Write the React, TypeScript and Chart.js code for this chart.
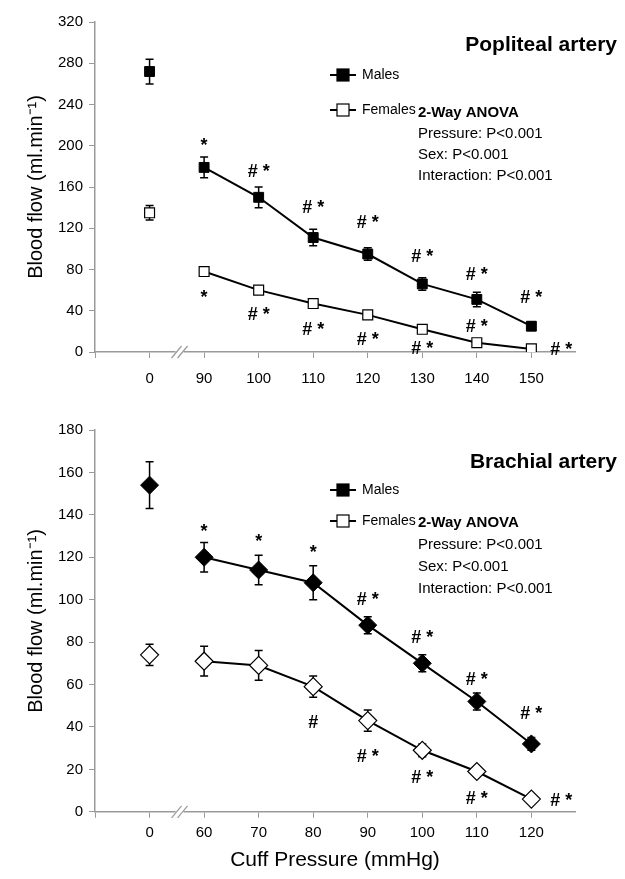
import { useEffect, useRef } from 'react';
import Chart from 'chart.js/auto';

// Top panel: popliteal artery
const popLabels = ['0', '90', '100', '110', '120', '130', '140', '150'];
const popMales = [272, 179, 150, 111, 95, 66, 51, 25];
const popMalesErr = [12, 10, 10, 8, 6, 6, 7, 4];
const popFemales = [135, 78, 60, 47, 36, 22, 9, 3];
const popFemalesErr = [7, 3, 3, 3, 3, 3, 2, 1];
const popMaleMarks = ['', '*', '#*', '#*', '#*', '#*', '#*', '#*'];
const popMaleMarkY = [0, 200, 175, 140, 125, 92, 75, 52];
const popFemaleMarks = ['', '*', '#*', '#*', '#*', '#*', '#*', '#*'];
const popFemaleMarkY = [0, 52, 36, 21, 12, 3, 24, 2];

// Bottom panel: brachial artery
const brLabels = ['0', '60', '70', '80', '90', '100', '110', '120'];
const brMales = [154, 120, 114, 108, 88, 70, 52, 32];
const brMalesErr = [11, 7, 7, 8, 4, 4, 4, 3];
const brFemales = [74, 71, 69, 59, 43, 29, 19, 6];
const brFemalesErr = [5, 7, 7, 5, 5, 3, 2, 1];
const brMaleMarks = ['', '*', '*', '*', '#*', '#*', '#*', '#*'];
const brMaleMarkY = [0, 132, 127, 122, 100, 82, 62, 46];
const brFemaleMarks = ['', '', '', '#', '#*', '#*', '#*', '#*'];
const brFemaleMarkY = [0, 0, 0, 42, 26, 16, 6, 5];

const anovaLines = ['Pressure: P<0.001', 'Sex: P<0.001', 'Interaction: P<0.001'];
const FONT = '"Liberation Sans", Arial, sans-serif';
const AXIS = '#9a9a9a';

interface PanelProps {
  height: number;
  title: string;
  labels: string[];
  males: number[];
  malesErr: number[];
  females: number[];
  femalesErr: number[];
  maleMarks: string[];
  maleMarkY: number[];
  femaleMarks: string[];
  femaleMarkY: number[];
  yMax: number;
  yStep: number;
  marker: 'rect' | 'rectRot';
  radius: number;
  showXTitle: boolean;
  top: number;
  bottom: number;
  tickPad: number;
  titleY: number;
  legendY: number[];
  anovaY: number;
  anovaGap: number;
}

function Panel(p: PanelProps) {
  const ref = useRef<HTMLCanvasElement>(null);

  useEffect(() => {
    if (!ref.current) return;
    const pts = (vals: number[]) => vals.map((v, i) => ({ x: i, y: v }));
    const seg = { borderColor: (ctx: any) => (ctx.p0DataIndex === 0 ? 'transparent' : '#000') };

    const extras = {
      id: 'extras',
      beforeDatasetsDraw(chart: any) {
        const c = chart.ctx;
        const xs = chart.scales.x;
        const ys = chart.scales.y;
        c.save();
        c.strokeStyle = '#000';
        c.lineWidth = 1.5;
        const bars = (vals: number[], errs: number[]) => {
          vals.forEach((v, i) => {
            const x = xs.getPixelForValue(i);
            const y1 = ys.getPixelForValue(v + errs[i]);
            const y2 = ys.getPixelForValue(v - errs[i]);
            c.beginPath();
            c.moveTo(x, y1); c.lineTo(x, y2);
            c.moveTo(x - 4, y1); c.lineTo(x + 4, y1);
            c.moveTo(x - 4, y2); c.lineTo(x + 4, y2);
            c.stroke();
          });
        };
        bars(p.males, p.malesErr);
        bars(p.females, p.femalesErr);
        c.restore();
      },
      afterDraw(chart: any) {
        const c = chart.ctx;
        const xs = chart.scales.x;
        const ys = chart.scales.y;
        const area = chart.chartArea;
        c.save();
        // axis break
        const bx = xs.getPixelForValue(0.55);
        const by = area.bottom;
        c.fillStyle = '#fff';
        c.fillRect(bx - 4, by - 3, 8, 6);
        c.strokeStyle = AXIS;
        c.lineWidth = 1.2;
        for (const d of [-3, 3]) {
          c.beginPath();
          c.moveTo(bx + d - 5, by + 6);
          c.lineTo(bx + d + 5, by - 6);
          c.stroke();
        }
        // significance marks
        c.fillStyle = '#000';
        c.font = `bold 18px ${FONT}`;
        c.textAlign = 'center';
        c.textBaseline = 'middle';
        const marks = (texts: string[], ys2: number[], female: boolean) => {
          texts.forEach((t, i) => {
            if (!t) return;
            const off = female && i === texts.length - 1 ? 30 : 0;
            const lbl = t === '#*' ? '# *' : t;
            c.fillText(lbl, xs.getPixelForValue(i) + off, ys.getPixelForValue(ys2[i]));
          });
        };
        marks(p.maleMarks, p.maleMarkY, false);
        marks(p.femaleMarks, p.femaleMarkY, true);
        // title
        c.textAlign = 'right';
        c.font = `bold 21px ${FONT}`;
        c.fillText(p.title, 617, p.titleY);
        // legend
        const lx = 330;
        const legend = (y: number, fill: string, name: string) => {
          c.strokeStyle = '#000';
          c.lineWidth = 2;
          c.beginPath(); c.moveTo(lx, y); c.lineTo(lx + 26, y); c.stroke();
          c.fillStyle = fill;
          c.lineWidth = 1.2;
          c.fillRect(lx + 7, y - 6, 12, 12);
          c.strokeRect(lx + 7, y - 6, 12, 12);
          c.fillStyle = '#000';
          c.textAlign = 'left';
          c.font = `14px ${FONT}`;
          c.fillText(name, lx + 32, y);
        };
        legend(p.legendY[0], '#000', 'Males');
        legend(p.legendY[1], '#fff', 'Females');
        // ANOVA
        c.textAlign = 'left';
        c.font = `bold 15px ${FONT}`;
        c.fillText('2-Way ANOVA', 418, p.anovaY);
        c.font = `15px ${FONT}`;
        anovaLines.forEach((t, i) => c.fillText(t, 418, p.anovaY + (i + 1) * p.anovaGap));
        c.restore();
      },
    };

    const chart = new Chart(ref.current, {
      type: 'line',
      data: {
        datasets: [
          {
            label: 'Males',
            data: pts(p.males),
            borderColor: '#000',
            borderWidth: 2,
            pointStyle: p.marker,
            pointRadius: p.radius,
            pointBackgroundColor: '#000',
            pointBorderColor: '#000',
            pointBorderWidth: 1,
            segment: seg,
          },
          {
            label: 'Females',
            data: pts(p.females),
            borderColor: '#000',
            borderWidth: 2,
            pointStyle: p.marker,
            pointRadius: p.radius,
            pointBackgroundColor: '#fff',
            pointBorderColor: '#000',
            pointBorderWidth: 1.2,
            segment: seg,
          },
        ],
      },
      options: {
        animation: false,
        responsive: true,
        maintainAspectRatio: false,
        layout: { padding: { top: p.top, right: 50, left: 20, bottom: p.bottom } },
        plugins: { legend: { display: false }, tooltip: { enabled: false } },
        scales: {
          x: {
            type: 'linear',
            min: -1,
            max: 7.8,
            afterBuildTicks: (s: any) => {
              s.ticks = [-1, 0, 1, 2, 3, 4, 5, 6, 7].map((v) => ({ value: v }));
            },
            ticks: {
              color: '#000',
              font: { family: FONT, size: 15 },
              padding: p.tickPad,
              callback: (v: any) => (v >= 0 ? p.labels[v] : ''),
            },
            grid: { drawOnChartArea: false, color: AXIS, tickLength: 6, tickColor: AXIS },
            border: { color: AXIS, width: 1.5 },
            title: {
              display: p.showXTitle,
              text: 'Cuff Pressure (mmHg)',
              color: '#000',
              font: { family: FONT, size: 21 },
              padding: { top: 0, bottom: 0 },
            },
          },
          y: {
            min: 0,
            max: p.yMax,
            ticks: { stepSize: p.yStep, color: '#000', font: { family: FONT, size: 15 }, padding: 6 },
            grid: { drawOnChartArea: false, color: AXIS, tickLength: 6, tickColor: AXIS },
            border: { color: AXIS, width: 1.5 },
            title: {
              display: true,
              text: 'Blood flow (ml.min\u207B\u00B9)',
              color: '#000',
              font: { family: FONT, size: 20 },
              padding: { bottom: 4 },
            },
          },
        },
      },
      plugins: [extras],
    });
    return () => chart.destroy();
  }, [p]);

  return (
    <div style={{ width: 625, height: p.height, position: 'relative' }}>
      <canvas ref={ref} />
    </div>
  );
}

export default function App() {
  useEffect(() => {
    document.body.style.margin = '0';
  }, []);
  return (
    <div style={{ width: 625, background: '#fff' }}>
      <Panel
        height={400}
        title="Popliteal artery"
        labels={popLabels}
        males={popMales}
        malesErr={popMalesErr}
        females={popFemales}
        femalesErr={popFemalesErr}
        maleMarks={popMaleMarks}
        maleMarkY={popMaleMarkY}
        femaleMarks={popFemaleMarks}
        femaleMarkY={popFemaleMarkY}
        yMax={320}
        yStep={40}
        marker="rect"
        radius={7}
        showXTitle={false}
        top={22}
        bottom={0}
        tickPad={12}
        titleY={45}
        legendY={[75, 110]}
        anovaY={113}
        anovaGap={21}
      />
      <Panel
        height={479}
        title="Brachial artery"
        labels={brLabels}
        males={brMales}
        malesErr={brMalesErr}
        females={brFemales}
        femalesErr={brFemalesErr}
        maleMarks={brMaleMarks}
        maleMarkY={brMaleMarkY}
        femaleMarks={brFemaleMarks}
        femaleMarkY={brFemaleMarkY}
        yMax={180}
        yStep={20}
        marker="rectRot"
        radius={9}
        showXTitle={true}
        top={30}
        bottom={6}
        tickPad={6}
        titleY={62}
        legendY={[90, 121]}
        anovaY={123}
        anovaGap={22}
      />
    </div>
  );
}
